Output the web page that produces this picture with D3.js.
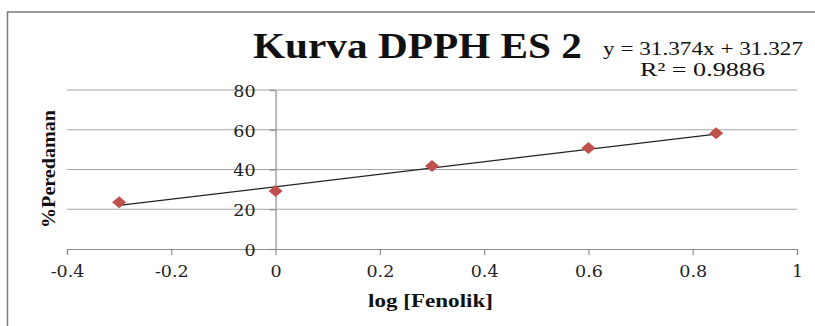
<!DOCTYPE html>
<html>
<head>
<meta charset="utf-8">
<script src="https://cdn.jsdelivr.net/npm/d3@7"></script>
<style>
  body { margin: 0; background: #fff; }
  .tick text { font-family: "DejaVu Serif", serif; font-size: 17.5px; fill: #222; }
  .grid line { stroke: #a6a6a6; stroke-width: 1.2; }
  .axis path, .axis line { stroke: #8c8c8c; stroke-width: 1.2; }
  .title { font-family: "Liberation Serif", serif; font-weight: bold; font-size: 35px; fill: #111; }
  .eq { font-family: "Liberation Serif", serif; font-size: 19px; fill: #111; }
  .axislabel { font-family: "Liberation Serif", serif; font-weight: bold; font-size: 19px; fill: #111; }
</style>
</head>
<body>
<svg id="chart" width="815" height="326"></svg>
<script>
const logFenolik = [-0.3, 0, 0.3, 0.6, 0.845];
const peredaman = [23.5, 29.2, 41.8, 50.8, 58.3];
const xTicks = [-0.4, -0.2, 0, 0.2, 0.4, 0.6, 0.8, 1];
const yTicks = [0, 20, 40, 60, 80];
const slope = 31.374, intercept = 31.327;

let svg = d3.select("#chart");

// frame
svg.append("path").attr("d", "M7.5,326 V12 H815")
    .attr("fill", "none").attr("stroke", "#7a7a7a").attr("stroke-width", 1.5);

let xScale = d3.scaleLinear().domain([-0.4, 1]).range([67, 797]);
let yScale = d3.scaleLinear().domain([0, 80]).range([249, 90]);

// gridlines
svg.append("g").attr("class", "grid").selectAll("line").data(yTicks.filter(d => d > 0)).join("line")
    .attr("x1", xScale(-0.4)).attr("x2", xScale(1))
    .attr("y1", d => yScale(d)).attr("y2", d => yScale(d));

// x axis
let xAxis = d3.axisBottom(xScale).tickValues(xTicks).tickSize(6).tickSizeOuter(6)
    .tickFormat(d => d === 0 ? "0" : (d === 1 ? "1" : d3.format(".1f")(d).replace("−", "-")));
let xg = svg.append("g").attr("class", "axis").attr("transform", "translate(0," + yScale(0) + ")").call(xAxis);
xg.selectAll(".tick text").attr("y", 28).attr("dy", 0);

// y axis at x = 0
let yAxis = d3.axisLeft(yScale).tickValues(yTicks).tickSize(6).tickSizeOuter(0);
let yg = svg.append("g").attr("class", "axis").attr("transform", "translate(" + xScale(0) + ",0)").call(yAxis);
yg.selectAll(".tick text").attr("x", -20).attr("dy", "0.36em");

// trendline
let x0 = d3.min(logFenolik), x1 = d3.max(logFenolik);
svg.append("line")
    .attr("x1", xScale(x0)).attr("y1", yScale(slope * x0 + intercept))
    .attr("x2", xScale(x1)).attr("y2", yScale(slope * x1 + intercept))
    .attr("stroke", "#222").attr("stroke-width", 1.2);

// markers
let pts = logFenolik.map((d, i) => ({x: d, y: peredaman[i]}));
svg.selectAll(".pt").data(pts).join("path").attr("class", "pt")
    .attr("transform", d => "translate(" + xScale(d.x) + "," + yScale(d.y) + ")")
    .attr("d", "M0,-6 L7,0 L0,6 L-7,0 Z")
    .attr("fill", "#c0504d");

// titles
svg.append("text").attr("class", "title").attr("x", 253).attr("y", 58)
    .attr("textLength", 329).attr("lengthAdjust", "spacingAndGlyphs").text("Kurva DPPH ES 2");
svg.append("text").attr("class", "eq").attr("x", 603).attr("y", 55)
    .attr("textLength", 200).attr("lengthAdjust", "spacingAndGlyphs").text("y = 31.374x + 31.327");
svg.append("text").attr("class", "eq").attr("x", 640).attr("y", 76)
    .attr("textLength", 125).attr("lengthAdjust", "spacingAndGlyphs").text("R² = 0.9886");

svg.append("text").attr("class", "axislabel").attr("x", 368).attr("y", 307)
    .attr("textLength", 125).attr("lengthAdjust", "spacingAndGlyphs").text("log [Fenolik]");
svg.append("text").attr("class", "axislabel")
    .attr("transform", "translate(55,228) rotate(-90)")
    .attr("textLength", 118).attr("lengthAdjust", "spacingAndGlyphs").text("%Peredaman");
</script>
</body>
</html>
